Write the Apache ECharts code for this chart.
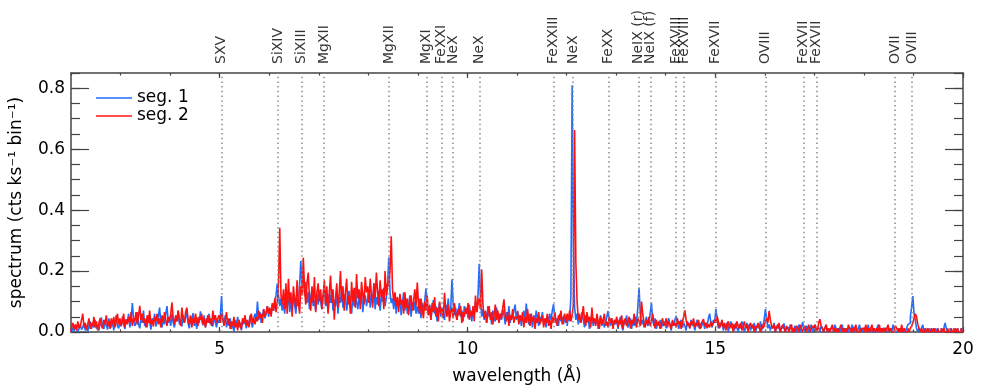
<!DOCTYPE html>
<html><head><meta charset="utf-8">
<script src="https://cdn.jsdelivr.net/npm/echarts@6/dist/echarts.min.js"></script>
<style>html,body{margin:0;padding:0;background:#fff}#c{width:981px;height:392px}</style>
</head><body><div id="c"></div>
<script>
// wavelength bins: first bin centre and bin width (Angstrom)
const binStart = 2.0;
const binWidth = 0.025;

// seg. 1 (blue), one row per Angstrom, 40 bins per row
const seg1 = [
0.008,0.000,0.015,0.004,0.020,0.010,0.000,0.012,0.025,0.008, 0.015,0.030,0.005,0.018,0.000,0.022,0.035,0.010,0.028,0.015,
0.040,0.012,0.020,0.005,0.030,0.048,0.018,0.010,0.035,0.022, 0.008,0.045,0.025,0.015,0.038,0.005,0.030,0.055,0.020,0.012,
0.035,0.018,0.050,0.025,0.010,0.042,0.030,0.060,0.015,0.038, 0.095,0.045,0.020,0.030,0.065,0.025,0.012,0.048,0.030,0.070,
0.020,0.040,0.015,0.055,0.035,0.008,0.045,0.028,0.060,0.018, 0.035,0.050,0.080,0.030,0.015,0.045,0.025,0.060,0.085,0.030,
0.045,0.020,0.060,0.030,0.015,0.050,0.035,0.070,0.025,0.040, 0.018,0.055,0.030,0.045,0.075,0.028,0.012,0.050,0.035,0.062,
0.020,0.040,0.010,0.048,0.030,0.068,0.040,0.022,0.055,0.015, 0.045,0.030,0.060,0.025,0.040,0.018,0.050,0.032,0.015,0.040,
0.030,0.050,0.118,0.040,0.025,0.055,0.015,0.035,0.020,0.045, 0.010,0.030,0.000,0.040,0.022,0.050,0.015,0.030,0.005,0.038,
0.025,0.048,0.012,0.035,0.020,0.055,0.030,0.015,0.045,0.060, 0.035,0.100,0.040,0.065,0.030,0.050,0.075,0.045,0.060,0.085,
0.050,0.075,0.055,0.090,0.070,0.105,0.120,0.160,0.120,0.085, 0.110,0.070,0.095,0.060,0.115,0.080,0.130,0.065,0.100,0.075,
0.120,0.090,0.060,0.110,0.085,0.150,0.233,0.150,0.190,0.120, 0.165,0.095,0.130,0.075,0.115,0.140,0.085,0.105,0.070,0.125,
0.090,0.130,0.100,0.075,0.120,0.145,0.085,0.110,0.065,0.125, 0.095,0.140,0.070,0.105,0.085,0.130,0.060,0.115,0.095,0.150,
0.080,0.110,0.125,0.070,0.100,0.135,0.090,0.060,0.120,0.085, 0.145,0.100,0.075,0.115,0.090,0.130,0.065,0.105,0.120,0.085,
0.110,0.140,0.080,0.125,0.095,0.160,0.075,0.115,0.090,0.135, 0.070,0.120,0.100,0.145,0.085,0.110,0.150,0.244,0.130,0.095,
0.110,0.075,0.125,0.060,0.100,0.085,0.115,0.055,0.095,0.130, 0.070,0.105,0.060,0.085,0.120,0.050,0.090,0.070,0.100,0.060,
0.085,0.060,0.110,0.045,0.095,0.070,0.100,0.143,0.080,0.055, 0.090,0.040,0.075,0.105,0.060,0.085,0.035,0.070,0.095,0.050,
0.080,0.060,0.040,0.090,0.065,0.110,0.050,0.075,0.173,0.090, 0.055,0.080,0.040,0.065,0.095,0.050,0.070,0.035,0.085,0.060,
0.075,0.045,0.090,0.060,0.035,0.080,0.055,0.100,0.065,0.120, 0.224,0.110,0.050,0.075,0.040,0.065,0.030,0.085,0.050,0.060,
0.025,0.070,0.045,0.035,0.080,0.050,0.030,0.060,0.040,0.075, 0.055,0.025,0.065,0.040,0.085,0.030,0.055,0.045,0.070,0.090,
0.040,0.065,0.030,0.055,0.020,0.050,0.070,0.035,0.093,0.045, 0.025,0.060,0.040,0.015,0.055,0.030,0.070,0.045,0.020,0.050,
0.035,0.065,0.025,0.040,0.015,0.055,0.030,0.060,0.040,0.070, 0.091,0.050,0.030,0.045,0.020,0.060,0.035,0.050,0.025,0.045,
0.040,0.020,0.055,0.035,0.120,0.810,0.290,0.080,0.040,0.060, 0.025,0.050,0.030,0.065,0.040,0.015,0.055,0.030,0.045,0.010,
0.035,0.060,0.020,0.040,0.025,0.050,0.010,0.035,0.055,0.020, 0.040,0.015,0.030,0.050,0.069,0.035,0.020,0.045,0.015,0.035,
0.025,0.045,0.010,0.035,0.050,0.020,0.005,0.040,0.025,0.055, 0.015,0.030,0.045,0.010,0.035,0.020,0.050,0.030,0.080,0.146,
0.060,0.025,0.040,0.015,0.035,0.050,0.020,0.030,0.060,0.096, 0.040,0.020,0.045,0.010,0.030,0.025,0.040,0.012,0.030,0.020,
0.035,0.012,0.030,0.045,0.020,0.005,0.035,0.025,0.040,0.053, 0.030,0.010,0.025,0.040,0.015,0.030,0.020,0.005,0.035,0.025,
0.012,0.040,0.020,0.030,0.005,0.025,0.040,0.015,0.030,0.012, 0.025,0.035,0.010,0.030,0.020,0.045,0.060,0.030,0.015,0.040,
0.030,0.075,0.045,0.012,0.030,0.020,0.035,0.005,0.025,0.015, 0.030,0.000,0.020,0.035,0.012,0.025,0.005,0.030,0.015,0.000,
0.025,0.012,0.035,0.020,0.000,0.015,0.030,0.012,0.025,0.005, 0.020,0.012,0.030,0.000,0.015,0.025,0.012,0.035,0.005,0.020,
0.040,0.075,0.045,0.012,0.025,0.005,0.020,0.012,0.030,0.000, 0.015,0.025,0.012,0.000,0.020,0.012,0.028,0.000,0.012,0.015,
0.000,0.024,0.012,0.000,0.012,0.020,0.000,0.012,0.024,0.000, 0.012,0.032,0.012,0.000,0.020,0.012,0.000,0.012,0.024,0.000,
0.012,0.024,0.000,0.012,0.012,0.000,0.020,0.012,0.000,0.012, 0.024,0.000,0.012,0.000,0.012,0.012,0.000,0.024,0.012,0.000,
0.012,0.000,0.012,0.024,0.000,0.012,0.000,0.000,0.012,0.012, 0.000,0.024,0.012,0.000,0.012,0.000,0.012,0.024,0.000,0.012,
0.000,0.012,0.012,0.000,0.024,0.000,0.012,0.000,0.012,0.000, 0.000,0.012,0.024,0.000,0.012,0.000,0.012,0.012,0.000,0.000,
0.012,0.000,0.012,0.000,0.024,0.012,0.000,0.000,0.012,0.000, 0.012,0.000,0.000,0.012,0.000,0.012,0.024,0.030,0.050,0.080,
0.118,0.060,0.040,0.012,0.000,0.012,0.000,0.012,0.024,0.000, 0.012,0.000,0.000,0.012,0.000,0.012,0.000,0.000,0.012,0.000,
0.012,0.000,0.000,0.012,0.000,0.012,0.030,0.012,0.000,0.000, 0.012,0.000,0.000,0.012,0.000,0.000,0.012,0.000,0.000,0.012,
0.000
];

// seg. 2 (red)
const seg2 = [
0.000,0.015,0.030,0.010,0.025,0.005,0.035,0.012,0.020,0.040, 0.060,0.015,0.030,0.008,0.025,0.045,0.010,0.030,0.020,0.050,
0.015,0.035,0.005,0.028,0.045,0.020,0.012,0.040,0.025,0.055, 0.018,0.035,0.010,0.045,0.025,0.050,0.015,0.035,0.060,0.025,
0.045,0.020,0.035,0.060,0.015,0.040,0.025,0.050,0.030,0.065, 0.020,0.045,0.035,0.065,0.025,0.050,0.086,0.040,0.060,0.030,
0.045,0.015,0.055,0.030,0.070,0.025,0.040,0.018,0.050,0.035, 0.060,0.025,0.045,0.015,0.055,0.030,0.065,0.040,0.020,0.050,
0.035,0.060,0.097,0.045,0.025,0.055,0.035,0.070,0.040,0.020, 0.080,0.045,0.030,0.065,0.080,0.040,0.025,0.055,0.015,0.045,
0.030,0.060,0.035,0.020,0.050,0.040,0.060,0.025,0.045,0.015, 0.035,0.055,0.030,0.045,0.020,0.070,0.040,0.055,0.030,0.045,
0.055,0.030,0.060,0.045,0.020,0.040,0.065,0.025,0.045,0.010, 0.035,0.020,0.050,0.015,0.030,0.005,0.040,0.025,0.010,0.045,
0.030,0.055,0.020,0.040,0.015,0.035,0.060,0.030,0.045,0.025, 0.050,0.035,0.070,0.045,0.060,0.030,0.075,0.050,0.065,0.085,
0.060,0.080,0.050,0.095,0.070,0.110,0.065,0.100,0.160,0.342, 0.120,0.090,0.140,0.075,0.160,0.060,0.175,0.095,0.130,0.050,
0.150,0.110,0.080,0.170,0.100,0.060,0.150,0.120,0.244,0.140, 0.090,0.160,0.195,0.110,0.070,0.150,0.095,0.180,0.065,0.130,
0.160,0.100,0.140,0.075,0.120,0.170,0.090,0.150,0.060,0.130, 0.185,0.095,0.140,0.040,0.110,0.160,0.080,0.125,0.200,0.100,
0.150,0.070,0.130,0.175,0.090,0.120,0.060,0.165,0.100,0.145, 0.080,0.190,0.110,0.140,0.075,0.165,0.125,0.090,0.180,0.130,
0.150,0.095,0.175,0.120,0.080,0.160,0.110,0.195,0.130,0.085, 0.170,0.115,0.140,0.075,0.200,0.120,0.160,0.150,0.200,0.314,
0.140,0.100,0.130,0.085,0.115,0.065,0.125,0.090,0.105,0.060, 0.130,0.080,0.110,0.055,0.095,0.120,0.070,0.100,0.140,0.085,
0.162,0.090,0.060,0.110,0.075,0.045,0.100,0.070,0.120,0.055, 0.085,0.040,0.095,0.065,0.115,0.050,0.080,0.035,0.100,0.060,
0.075,0.045,0.129,0.070,0.050,0.090,0.035,0.065,0.080,0.045, 0.095,0.060,0.040,0.075,0.055,0.085,0.030,0.065,0.050,0.080,
0.060,0.095,0.040,0.070,0.050,0.085,0.035,0.120,0.065,0.090, 0.110,0.075,0.205,0.090,0.045,0.070,0.030,0.060,0.085,0.040,
0.065,0.025,0.055,0.090,0.040,0.070,0.030,0.060,0.045,0.080, 0.107,0.050,0.035,0.065,0.020,0.055,0.040,0.075,0.030,0.050,
0.045,0.070,0.025,0.055,0.035,0.065,0.015,0.050,0.030,0.075, 0.040,0.020,0.060,0.035,0.050,0.010,0.045,0.030,0.065,0.025,
0.040,0.055,0.015,0.045,0.030,0.060,0.020,0.040,0.010,0.050, 0.030,0.065,0.035,0.020,0.055,0.040,0.070,0.025,0.045,0.060,
0.030,0.060,0.040,0.070,0.035,0.055,0.090,0.663,0.228,0.100, 0.040,0.060,0.030,0.050,0.085,0.040,0.020,0.065,0.035,0.050,
0.015,0.080,0.030,0.045,0.020,0.060,0.035,0.010,0.050,0.025, 0.040,0.060,0.020,0.035,0.015,0.050,0.030,0.045,0.010,0.040,
0.030,0.050,0.015,0.040,0.025,0.055,0.010,0.035,0.045,0.020, 0.030,0.050,0.012,0.040,0.025,0.060,0.030,0.015,0.045,0.035,
0.020,0.100,0.060,0.030,0.015,0.040,0.025,0.050,0.020,0.035, 0.060,0.030,0.012,0.040,0.020,0.035,0.010,0.030,0.045,0.020,
0.030,0.045,0.015,0.035,0.025,0.010,0.040,0.020,0.030,0.015, 0.045,0.025,0.035,0.010,0.030,0.050,0.071,0.040,0.020,0.030,
0.012,0.035,0.025,0.045,0.015,0.030,0.020,0.040,0.010,0.025, 0.035,0.042,0.020,0.030,0.012,0.025,0.015,0.035,0.020,0.030,
0.040,0.030,0.053,0.035,0.012,0.025,0.040,0.015,0.030,0.005, 0.025,0.035,0.012,0.020,0.030,0.000,0.025,0.012,0.035,0.020,
0.012,0.030,0.005,0.020,0.035,0.012,0.025,0.000,0.020,0.030, 0.012,0.025,0.000,0.020,0.012,0.030,0.015,0.000,0.025,0.012,
0.020,0.035,0.045,0.030,0.069,0.040,0.020,0.012,0.025,0.000, 0.020,0.012,0.030,0.000,0.012,0.024,0.012,0.000,0.020,0.012,
0.000,0.012,0.025,0.000,0.012,0.000,0.020,0.012,0.000,0.024, 0.012,0.000,0.012,0.020,0.000,0.012,0.024,0.000,0.012,0.020,
0.012,0.024,0.012,0.000,0.030,0.042,0.020,0.012,0.000,0.012, 0.024,0.000,0.012,0.000,0.012,0.024,0.000,0.012,0.000,0.012,
0.000,0.012,0.024,0.000,0.012,0.000,0.012,0.000,0.024,0.012, 0.000,0.012,0.000,0.012,0.024,0.000,0.000,0.012,0.000,0.012,
0.012,0.000,0.024,0.000,0.012,0.000,0.012,0.024,0.000,0.012, 0.000,0.012,0.000,0.024,0.000,0.012,0.000,0.012,0.000,0.012,
0.024,0.000,0.012,0.000,0.000,0.012,0.020,0.012,0.000,0.012, 0.000,0.024,0.000,0.012,0.000,0.000,0.012,0.000,0.012,0.020,
0.030,0.045,0.060,0.050,0.025,0.012,0.000,0.012,0.000,0.000, 0.012,0.000,0.012,0.000,0.000,0.012,0.000,0.012,0.000,0.000,
0.012,0.000,0.000,0.012,0.000,0.012,0.000,0.000,0.012,0.000, 0.000,0.012,0.000,0.000,0.012,0.000,0.012,0.000,0.000,0.012,
0.000
];

// line identifications
const lineWaves = [5.04, 6.18, 6.65, 7.11, 8.42, 9.17, 9.48, 9.71, 10.24, 11.74, 12.13, 12.85, 13.45, 13.70, 14.21, 14.37, 15.01, 16.01, 16.78, 17.05, 18.63, 18.97];
const lineNames = ['SXV','SiXIV','SiXIII','MgXII','MgXII','MgXI','FeXXI','NeX','NeX','FeXXIII','NeX','FeXX','NeIX (r)','NeIX (f)','FeXVIII','FeXVIII','FeXVII','OVIII','FeXVII','FeXVII','OVII','OVIII'];

const seriesNames = ['seg. 1', 'seg. 2'];
const xTicks = [5, 10, 15, 20];
const yTicks = [0, 0.2, 0.4, 0.6, 0.8];
const xMin = 2, xMax = 20, yMin = 0, yMax = 0.85;

const FONT = 'DejaVu Sans';
const AX = '#444';

function toPairs(vals) {
  return vals.map((v, i) => [+(binStart + i * binWidth).toFixed(3), v]);
}

function xAxisDef(pos, major, withLabels) {
  const a = {
    type: 'value', position: pos, min: xMin, max: xMax,
    axisLine: { show: major, onZero: false, lineStyle: { color: AX, width: 1.5 } },
    splitLine: { show: false },
    axisTick: { show: true, inside: true, length: major ? 5 : 2.6, lineStyle: { color: AX, width: 1.2 } },
    axisLabel: { show: false }
  };
  if (major) {
    a.axisTick.customValues = xTicks;
    a.axisLabel = withLabels ? { show: true, customValues: xTicks, fontSize: 17, fontFamily: FONT, color: '#000', margin: 9 } : { show: false };
  } else {
    a.interval = 1;
  }
  if (withLabels) {
    a.name = 'wavelength (Å)';
    a.nameLocation = 'middle';
    a.nameGap = 36;
    a.nameTextStyle = { fontSize: 17, fontFamily: FONT, color: '#000' };
  }
  return a;
}
function yAxisDef(pos, major, withLabels) {
  const a = {
    type: 'value', position: pos, min: yMin, max: yMax,
    axisLine: { show: major, onZero: false, lineStyle: { color: AX, width: 1.5 } },
    splitLine: { show: false },
    axisTick: { show: true, inside: true, length: major ? 18 : 9, lineStyle: { color: AX, width: 1.2 } },
    axisLabel: { show: false }
  };
  if (major) {
    a.axisTick.customValues = yTicks;
    a.axisLabel = withLabels ? { show: true, customValues: yTicks, fontSize: 17, fontFamily: FONT, color: '#000', margin: 6, formatter: v => Number(v).toFixed(1) } : { show: false };
  } else {
    a.interval = 0.05;
  }
  if (withLabels) {
    a.name = 'spectrum (cts ks⁻¹ bin⁻¹)';
    a.nameLocation = 'middle';
    a.nameGap = 46;
    a.nameTextStyle = { fontSize: 17, fontFamily: FONT, color: '#000' };
  }
  return a;
}

const chart = echarts.init(document.getElementById('c'), null, { renderer: 'canvas' });
chart.setOption({
  animation: false,
  backgroundColor: '#fff',
  grid: { left: 69, right: 18, top: 73, bottom: 60, containLabel: false },
  legend: {
    data: seriesNames, orient: 'vertical', left: 96, top: 89, padding: 0,
    icon: 'rect', itemWidth: 36, itemHeight: 1.5, itemGap: 0,
    textStyle: { fontSize: 17, fontFamily: FONT, color: '#000', lineHeight: 18 }
  },
  xAxis: [xAxisDef('bottom', true, true), xAxisDef('bottom', false, false), xAxisDef('top', true, false), xAxisDef('top', false, false)],
  yAxis: [yAxisDef('left', true, true), yAxisDef('left', false, false), yAxisDef('right', true, false), yAxisDef('right', false, false)],
  series: [
    { name: seriesNames[0], type: 'line', step: 'middle', xAxisIndex: 0, yAxisIndex: 0, data: toPairs(seg1),
      symbol: 'none', lineStyle: { color: '#1f6dff', width: 1.6 }, itemStyle: { color: '#1f6dff' }, z: 2 },
    { name: seriesNames[1], type: 'line', step: 'middle', xAxisIndex: 0, yAxisIndex: 0, data: toPairs(seg2),
      symbol: 'none', lineStyle: { color: '#ff1111', width: 1.6 }, itemStyle: { color: '#ff1111' }, z: 3 },
    { name: 'lines', type: 'scatter', xAxisIndex: 0, yAxisIndex: 0, silent: true, z: 6, clip: false,
      data: lineWaves.map((w, i) => ({ value: [w, yMax], name: lineNames[i] })),
      symbol: 'circle', symbolSize: 2, itemStyle: { color: 'rgba(0,0,0,0)' },
      labelLayout: { hideOverlap: false },
      label: { show: true, position: 'top', distance: 8, rotate: 90, align: 'left', verticalAlign: 'middle',
        formatter: '{b}', fontSize: 14, fontFamily: FONT, color: '#000' },
      markLine: { silent: true, symbol: ['none', 'none'], label: { show: false }, z: 6,
        lineStyle: { type: [1.5, 3.2], color: '#8c8c8c', width: 1.5 },
        data: lineWaves.map(w => ({ xAxis: w })) }
    }
  ]
});
</script>
</body></html>
